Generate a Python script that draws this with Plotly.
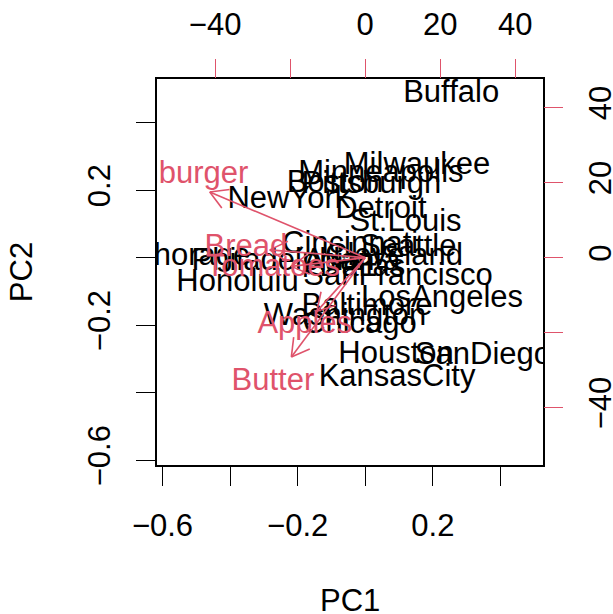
import math
import plotly.graph_objects as go

# Principal component scores of the cities (PC1, PC2)
cities = ["Anchorage", "Atlanta", "Baltimore", "Boston", "Buffalo", "Chicago",
          "Cincinnati", "Cleveland", "Dallas", "Detroit", "Honolulu", "Houston",
          "KansasCity", "LosAngeles", "Milwaukee", "Minneapolis", "NewYork",
          "Philadelphia", "Pittsburgh", "SanDiego", "SanFrancisco", "Seattle",
          "St.Louis", "Washington"]
pc1 = [-0.562, -0.039, 0.005, -0.090, 0.254, -0.016,
       -0.045, 0.085, -0.009, 0.046, -0.378, 0.091,
       0.094, 0.227, 0.153, 0.046, -0.226,
       -0.264, 0.018, 0.348, 0.097, 0.127,
       0.119, -0.060]
pc2 = [0.000, -0.013, -0.146, 0.218, 0.485, -0.199,
       0.038, 0.000, -0.031, 0.141, -0.076, -0.288,
       -0.356, -0.122, 0.270, 0.248, 0.171,
       -0.013, 0.215, -0.291, -0.057, 0.029,
       0.103, -0.176]

# Variable loadings (top / right axes)
foods = ["Bread", "Hamburger", "Butter", "Apples", "Tomatoes"]
load1 = [-31.8, -51.8, -24.6, -16.1, -24.6]
load2 = [2.6, 21.9, -33.1, -17.9, -2.9]

# Axis ranges and ticks
x_range = [-0.6163, 0.5257]
y_range = [-0.6140, 0.5295]
x2_range = [-55.5, 47.4]
y2_range = [-55.3, 47.65]
x_ticks = [-0.6, -0.4, -0.2, 0.0, 0.2, 0.4]
x_ticktext = ["\u22120.6", "", "\u22120.2", "", "0.2", ""]
y_ticks = [-0.6, -0.4, -0.2, 0.0, 0.2, 0.4]
y_ticktext = ["\u22120.6", "", "\u22120.2", "", "0.2", ""]
x2_ticks = [-40, -20, 0, 20, 40]
x2_ticktext = ["\u221240", "", "0", "20", "40"]
y2_ticks = [-40, -20, 0, 20, 40]
y2_ticktext = ["\u221240", "", "0", "20", "40"]

RED = "#DF536B"
FONT = "Liberation Sans, Arial, sans-serif"
FS = 31

W, H = 613, 614
ML, MR, MT, MB = 157, 70, 79, 149
pw, ph = W - ML - MR, H - MT - MB
sx = pw / (x2_range[1] - x2_range[0])   # pixels per unit on the top axis
sy = ph / (y2_range[1] - y2_range[0])   # pixels per unit on the right axis

fig = go.Figure()

fig.add_trace(go.Scatter(
    x=pc1, y=pc2, text=cities, mode="text",
    textposition="middle center",
    textfont=dict(family=FONT, size=FS, color="black"),
    cliponaxis=True, hoverinfo="skip", showlegend=False,
    xaxis="x", yaxis="y"))

fig.add_trace(go.Scatter(
    x=load1, y=load2, text=foods, mode="text",
    textposition="middle center",
    textfont=dict(family=FONT, size=FS, color=RED),
    cliponaxis=True, hoverinfo="skip", showlegend=False,
    xaxis="x2", yaxis="y2"))

# Arrows from the origin to 0.8 x loading, with open heads
head_px = 20.0
head_ang = math.radians(30)
ax_x, ax_y = [], []
for lx, ly in zip(load1, load2):
    tx, ty = 0.8 * lx, 0.8 * ly
    ax_x += [0, tx, None]
    ax_y += [0, ty, None]
    # direction in pixel space, pointing from tip back to origin
    dx, dy = -tx * sx, -ty * sy
    n = math.hypot(dx, dy)
    ux, uy = dx / n, dy / n
    for s in (1, -1):
        c, si = math.cos(s * head_ang), math.sin(s * head_ang)
        rx = ux * c - uy * si
        ry = ux * si + uy * c
        ax_x += [tx, tx + rx * head_px / sx, None]
        ax_y += [ty, ty + ry * head_px / sy, None]

fig.add_trace(go.Scatter(
    x=ax_x, y=ax_y, mode="lines",
    line=dict(color=RED, width=1.6),
    cliponaxis=True, hoverinfo="skip", showlegend=False,
    xaxis="x2", yaxis="y2"))

axis_common = dict(showgrid=False, zeroline=False, ticks="outside", ticklen=19,
                   tickwidth=1.4, automargin=False,
                   tickfont=dict(family=FONT, size=FS, color="black"))

fig.update_layout(
    width=W, height=H,
    margin=dict(l=ML, r=MR, t=MT, b=MB, pad=0, autoexpand=False),
    plot_bgcolor="white", paper_bgcolor="white",
    xaxis=dict(range=x_range, tickvals=x_ticks, ticktext=x_ticktext,
               showline=True, mirror=True, linecolor="black", linewidth=1.5,
               tickcolor="black", ticklabelstandoff=13, **axis_common),
    yaxis=dict(range=y_range, tickvals=y_ticks, ticktext=y_ticktext,
               showline=True, mirror=True, linecolor="black", linewidth=1.5,
               tickcolor="black", tickangle=-90, ticklabelstandoff=14, **axis_common),
    xaxis2=dict(range=x2_range, tickvals=x2_ticks, ticktext=x2_ticktext,
                overlaying="x", side="top", anchor="y2", showline=False,
                tickcolor=RED, ticklabelstandoff=12, **axis_common),
    yaxis2=dict(range=y2_range, tickvals=y2_ticks, ticktext=y2_ticktext,
                overlaying="y", side="right", anchor="x2", showline=False,
                tickcolor=RED, tickangle=-90, ticklabelstandoff=11, **axis_common),
    annotations=[
        dict(text="PC1", xref="paper", yref="paper", x=0.5, y=-0.35,
             xanchor="center", yanchor="middle", showarrow=False,
             font=dict(family=FONT, size=FS, color="black")),
        dict(text="PC2", xref="paper", yref="paper", x=-0.352, y=0.5,
             xanchor="center", yanchor="middle", showarrow=False, textangle=-90,
             font=dict(family=FONT, size=FS, color="black")),
    ],
)

fig.write_html("out.html")
